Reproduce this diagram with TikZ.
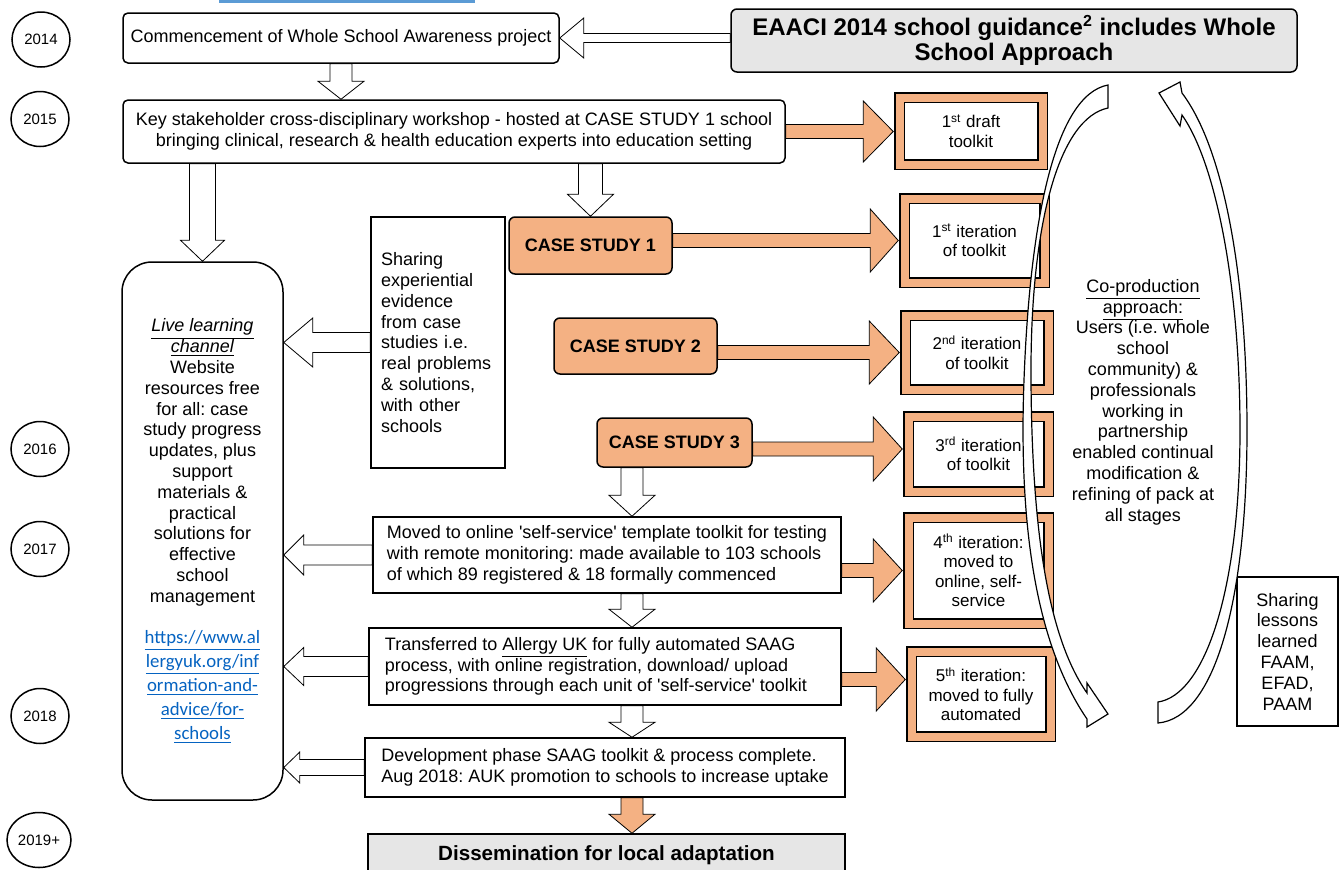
\documentclass[tikz,border=0pt]{standalone}
\usepackage{fontspec}
\setmainfont{Liberation Sans}
\newfontfamily\linkfont{Carlito}
\usetikzlibrary{calc,positioning,shapes.geometric,backgrounds}
\definecolor{peach}{RGB}{244,177,131}
\definecolor{guidegray}{RGB}{230,230,230}
\definecolor{linkblue}{RGB}{5,99,193}
\definecolor{barblue}{RGB}{91,155,213}
\frenchspacing
% block arrow: [style]{from}{to}{shaft half width}{head half width}{head length}
\newcommand{\blockarrow}[6][]{%
  \coordinate (ba-s) at (#2);
  \coordinate (ba-e) at (#3);
  \coordinate (ba-c) at ($(ba-e)!#6!(ba-s)$);
  \path[#1] ($(ba-s)!#4!90:(ba-e)$) -- ($(ba-c)!#4!90:(ba-e)$)
    -- ($(ba-c)!#5!90:(ba-e)$) -- (ba-e) -- ($(ba-c)!#5!-90:(ba-e)$)
    -- ($(ba-c)!#4!-90:(ba-e)$) -- ($(ba-s)!#4!-90:(ba-e)$) -- cycle;}
\newcommand{\linkline}[1]{\textcolor{linkblue}{\linkfont\fontsize{9.4}{10.4}\selectfont\underline{#1}}}
\newcommand{\sq}{\textquotesingle}

\begin{document}
\begin{tikzpicture}[x=0.5pt, y=-0.5pt, line width=0.75pt,
  font=\fontsize{9}{10.4}\selectfont,
  yearmark/.style={draw, ellipse, minimum width=29pt, minimum height=27.5pt, inner sep=0pt,
                   font=\fontsize{7.5}{9}\selectfont},
  stagebox/.style={draw, fill=white, rounded corners=2.5pt, align=center, inner sep=0pt},
  notebox/.style={draw, fill=white, align=left, inner xsep=5pt, inner ysep=0pt},
  guidebox/.style={draw, fill=guidegray, rounded corners=3pt, align=center, inner sep=0pt,
                   font=\fontsize{12}{12.5}\selectfont\bfseries},
  casebox/.style={draw, fill=peach, rounded corners=3pt, inner sep=0pt,
                  font=\fontsize{9}{10}\selectfont\bfseries},
  iterbox/.style={draw, double=peach, double distance=4pt, fill=white, align=center,
                  inner sep=0pt, font=\fontsize{8.5}{9.7}\selectfont},
  hollow/.style={draw, fill=white, line join=miter},
  peachflow/.style={draw, fill=peach, line join=miter},
  ribbon/.style={draw, fill=white, line width=0.6pt}]
\useasboundingbox (0,0) rectangle (1341,869);
\clip (0,0) rectangle (1341,869);
\fill[barblue] (219,0) rectangle (475,2.5);

% years
\node[yearmark] (y14) at (41,39.5) {2014};
\node[yearmark] (y15) at (40,119) {2015};
\node[yearmark] (y16) at (40,449) {2016};
\node[yearmark] (y17) at (40,549) {2017};
\node[yearmark] (y18) at (40,716) {2018};
\node[yearmark, minimum width=32pt] (y19) at (39,840) {2019+};

% stages
\node[stagebox, minimum width=218pt, minimum height=25pt] (comm) at (341,38)
  {Commencement of Whole School Awareness project};
\node[guidebox, minimum width=283pt, minimum height=31.5pt] (guide) at (1014,40.5)
  {EAACI 2014 school guidance\textsuperscript{2} includes Whole\\School Approach};
\node[stagebox, minimum width=331pt, minimum height=31.5pt] (work) at (454,131.5)
  {Key stakeholder cross-disciplinary workshop - hosted at CASE STUDY 1 school\\
   bringing clinical, research \& health education experts into education setting};
\node[stagebox, rounded corners=15pt, minimum width=80.5pt, minimum height=269pt] (live) at (202.5,531)
  {\underline{\textit{Live learning}}\\\underline{\textit{channel}}\\Website\\resources free\\for all: case\\
   study progress\\updates, plus\\support\\materials \&\\practical\\solutions for\\effective\\school\\
   management\\[10.4pt]\linkline{https://www.al}\\[1.5pt]\linkline{lergyuk.org/inf}\\[1.5pt]
   \linkline{ormation-and-}\\[1.5pt]\linkline{advice/for-}\\[1.5pt]\linkline{schools}};
\node[notebox, text width=57pt, minimum height=125.5pt] (share) at (438,342.5)
  {Sharing\\experiential\\evidence\\from case\\studies i.e.\\real problems\\\& solutions,\\with other\\schools};
\node[casebox, minimum width=81.5pt, minimum height=28.5pt] (cs1) at (590.5,245.5) {CASE STUDY 1};
\node[casebox, minimum width=81.5pt, minimum height=28pt] (cs2) at (635.5,346) {CASE STUDY 2};
\node[casebox, minimum width=77.5pt, minimum height=24.5pt] (cs3) at (674.5,442.5) {CASE STUDY 3};
\node[notebox, minimum width=234pt, minimum height=38pt] (moved) at (607,555)
  {Moved to online \sq self-service\sq{} template toolkit for testing\\
   with remote monitoring: made available to 103 schools\\
   of which 89 registered \& 18 formally commenced};
\node[notebox, minimum width=236pt, minimum height=38.5pt] (trans) at (605,666.5)
  {Transferred to \underline{Allergy UK} for fully automated SAAG\\
   process, with online registration, download/ upload\\
   progressions through each unit of \sq self-service\sq{} toolkit\hspace*{9pt}};
\node[notebox, minimum width=240pt, minimum height=29.5pt] (devel) at (605,767.5)
  {Development phase SAAG toolkit \& process complete.\\
   Aug 2018: AUK promotion to schools to increase uptake};
\node[draw, fill=guidegray, minimum width=238.5pt, minimum height=21pt, inner sep=0pt,
      font=\fontsize{10.3}{12}\selectfont\bfseries] (dissem) at (606.5,855)
  {Dissemination for local adaptation};

% toolkit versions
\node[iterbox, minimum width=71.5pt, minimum height=33.5pt] (draft) at (971,131)
  {1\textsuperscript{st} draft\\toolkit};
\node[iterbox, minimum width=70pt, minimum height=42pt] (it1) at (974.5,240.5)
  {1\textsuperscript{st} iteration\\of toolkit};
\node[iterbox, minimum width=71.5pt, minimum height=37pt] (it2) at (977,352.5)
  {2\textsuperscript{nd} iteration\\of toolkit};
\node[iterbox, minimum width=70pt, minimum height=37.5pt] (it3) at (978.5,454)
  {3\textsuperscript{rd} iteration\\of toolkit};
\node[iterbox, minimum width=70pt, minimum height=53pt] (it4) at (978.5,570.5)
  {4\textsuperscript{th} iteration:\\moved to\\online, self-\\service};
\node[iterbox, minimum width=69.5pt, minimum height=42.5pt] (it5) at (981,694)
  {5\textsuperscript{th} iteration:\\moved to fully\\automated};

\node[align=center] (copro) at (1143,402)
  {\underline{Co-production}\\\underline{approach:}\\Users (i.e. whole\\school\\community) \&\\
   professionals\\working in\\partnership\\enabled continual\\modification \&\\refining of pack at\\all stages};
\node[draw, align=center, minimum width=50.5pt, minimum height=74.5pt, inner sep=0pt] (lessons) at (1287.5,651.5)
  {Sharing\\lessons\\learned\\FAAM,\\EFAD,\\PAAM};

\coordinate (spine) at (632,0);
\coordinate (t5s) at ($(trans.east)+(0,13)$);
\coordinate (t3s) at ($(cs3.east)+(0,6.5)$);

\begin{scope}[on background layer]
  % hollow arrows
  \blockarrow[hollow]{guide.west |- comm.east}{comm.east}{2.25pt}{10pt}{12pt}
  \blockarrow[hollow]{comm.south}{comm.south |- work.north}{5.5pt}{11.5pt}{9pt}
  \blockarrow[hollow]{work.south -| live.north}{live.north}{6.5pt}{11pt}{10.5pt}
  \blockarrow[hollow]{work.south -| cs1.north}{cs1.north}{6pt}{11.5pt}{11pt}
  \blockarrow[hollow]{share.west}{share.west -| live.east}{5pt}{12.25pt}{14.5pt}
  \blockarrow[hollow]{moved.west}{moved.west -| live.east}{5pt}{10pt}{10pt}
  \blockarrow[hollow]{trans.west}{trans.west -| live.east}{5pt}{9.5pt}{10pt}
  \blockarrow[hollow]{devel.west}{devel.west -| live.east}{4pt}{7.75pt}{8pt}
  \blockarrow[hollow]{cs3.south -| spine}{moved.north -| spine}{5.5pt}{11.5pt}{10.5pt}
  \blockarrow[hollow]{moved.south -| spine}{trans.north -| spine}{5.5pt}{11.5pt}{9pt}
  \blockarrow[hollow]{trans.south -| spine}{devel.north -| spine}{5.5pt}{11.5pt}{7.5pt}
  \blockarrow[peachflow]{devel.south -| spine}{dissem.north -| spine}{5.5pt}{11.5pt}{9.5pt}
  % toolkit arrows
  \blockarrow[peachflow]{work.east}{$(work.east -| draft.west)+(-5.5,0)$}{3.5pt}{15.25pt}{15pt}
  \blockarrow[peachflow]{cs1.east |- it1.west}{$(it1.west)+(-5.5,0)$}{3.5pt}{15.75pt}{14pt}
  \blockarrow[peachflow]{cs2.east |- it2.west}{$(it2.west)+(-5.5,0)$}{3.5pt}{15.75pt}{15pt}
  \blockarrow[peachflow]{t3s}{$(t3s -| it3.west)+(-5.5,0)$}{3.5pt}{16pt}{14.5pt}
  \blockarrow[peachflow]{moved.east |- it4.west}{$(it4.west)+(-5.5,0)$}{3.5pt}{15.75pt}{14.5pt}
  \blockarrow[peachflow]{t5s}{$(t5s -| it5.west)+(-5.5,0)$}{3.5pt}{15.75pt}{14.5pt}
\end{scope}

% co-production cycle
\path[ribbon] (1108,85) .. controls (1055,95) and (1030,220) .. (1024,380)
  .. controls (1018,540) and (1040,650) .. (1087,719)
  -- (1087,727) -- (1108,714) -- (1087,683) -- (1087,693)
  .. controls (1050,640) and (1032,540) .. (1031,380)
  .. controls (1030,220) and (1060,118) .. (1108,108) -- cycle;
\path[ribbon] (1158,723) .. controls (1215,718) and (1247,600) .. (1247,430)
  .. controls (1247,280) and (1225,150) .. (1182,93)
  -- (1180,82) -- (1159,93) -- (1180,126) -- (1182,115)
  .. controls (1217,165) and (1240,290) .. (1240,430)
  .. controls (1240,590) and (1205,695) .. (1158,702) -- cycle;
\end{tikzpicture}
\end{document}
